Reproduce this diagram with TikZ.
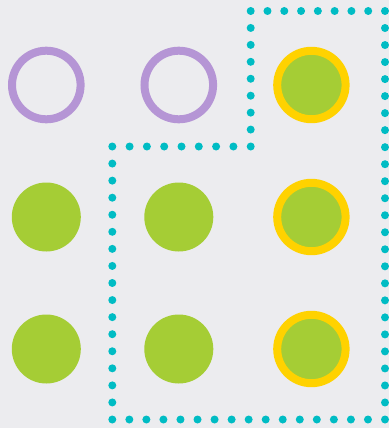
\documentclass[tikz,border=0pt]{standalone}
\definecolor{bg}{HTML}{ECECEF}
\definecolor{dotteal}{HTML}{00BCC4}
\definecolor{lime}{HTML}{A5CD35}
\definecolor{gold}{HTML}{FFD200}
\definecolor{lilac}{HTML}{B595D5}
\begin{document}
\begin{tikzpicture}[x=1pt,y=-1pt,
  emptyring/.style={circle,draw=lilac,line width=8pt,minimum size=68.6pt,inner sep=0pt},
  fullball/.style={circle,fill=lime,minimum size=69pt,inner sep=0pt},
  goldball/.style={circle,draw=gold,fill=lime,line width=8pt,minimum size=68.4pt,inner sep=0pt},
  dotmark/.style={fill=dotteal}]
\fill[bg] (0,0) rectangle (389,428);
\useasboundingbox (0,0) rectangle (389,428);
% dotted boundary
\foreach \ax/\ay/\bx/\by/\n in {250.7/11/385/11/8, 385/11/385/419.5/24, 385/419.5/112.3/419.5/16, 112.3/419.5/112.3/146.5/16, 112.3/146.5/250.7/146.5/8, 250.7/146.5/250.7/11/8}{
  \foreach \i in {1,...,\n}{
    \fill[dotmark] ({\ax+(\bx-\ax)*\i/\n},{\ay+(\by-\ay)*\i/\n}) circle[radius=4pt];
  }
}
\node[emptyring] (a1) at (46.3,85) {};
\node[emptyring] (a2) at (178.8,85) {};
\node[goldball] (a3) at (311.4,85) {};
\node[fullball] (b1) at (46.3,217) {};
\node[fullball] (b2) at (178.8,217) {};
\node[goldball] (b3) at (311.4,217) {};
\node[fullball] (c1) at (46.3,349) {};
\node[fullball] (c2) at (178.8,349) {};
\node[goldball] (c3) at (311.4,349) {};
\end{tikzpicture}
\end{document}
